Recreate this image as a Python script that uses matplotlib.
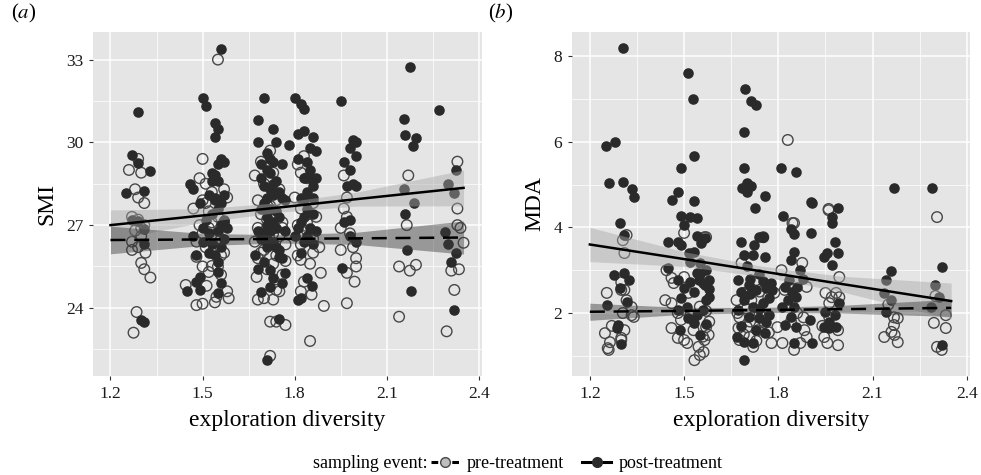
import matplotlib
matplotlib.use("Agg")
import matplotlib.pyplot as plt
from matplotlib.lines import Line2D

plt.rcParams['font.family'] = ['Liberation Serif', 'DejaVu Serif']
plt.rcParams['mathtext.fontset'] = 'stix'

# ---- panel (a): SMI vs exploration diversity ----
smi_post = [
    (1.29, 31.1), (1.27, 29.55), (1.29, 29.26), (1.33, 28.97), (1.25, 28.17), (1.31, 28.24),
    (1.27, 27.2), (1.29, 27.15), (1.31, 26.85), (1.31, 26.3), (1.30, 23.56), (1.31, 23.5),
    (1.56, 33.4), (1.50, 31.6), (1.51, 31.3), (1.54, 30.7), (1.55, 30.5), (1.54, 30.2),
    (1.56, 29.4), (1.55, 29.2), (1.57, 29.3), (1.54, 28.8), (1.55, 28.6), (1.53, 28.6),
    (1.46, 28.5), (1.47, 28.3), (1.52, 28.1), (1.54, 28.0), (1.49, 27.8), (1.56, 27.8),
    (1.55, 27.6), (1.53, 27.4), (1.50, 26.9), (1.52, 26.7), (1.55, 26.8), (1.57, 26.5),
    (1.53, 26.3), (1.48, 25.92), (1.52, 26.0), (1.55, 25.67), (1.55, 25.3), (1.49, 25.13),
    (1.48, 24.95), (1.45, 24.6), (1.49, 24.65), (1.56, 24.9), (1.55, 24.55), (1.47, 26.6),
    (1.57, 27.2), (1.51, 27.2), (1.56, 27.0), (1.54, 27.9), (1.57, 28.1), (1.53, 28.9),
    (1.56, 26.2), (1.50, 26.4), (1.54, 25.9), (1.58, 26.9),
    (1.70, 31.6), (1.68, 30.8), (1.73, 30.5), (1.68, 30.0), (1.74, 30.0), (1.78, 29.9),
    (1.71, 29.6), (1.72, 29.4), (1.73, 29.3), (1.69, 29.2), (1.71, 29.0), (1.72, 28.9),
    (1.74, 28.6), (1.70, 28.4), (1.72, 28.3), (1.75, 28.2), (1.71, 28.0), (1.73, 28.1),
    (1.76, 28.0), (1.70, 27.8), (1.72, 27.6), (1.74, 27.5), (1.71, 27.3), (1.73, 27.1),
    (1.68, 26.8), (1.70, 26.7), (1.72, 26.8), (1.74, 26.9), (1.77, 26.8), (1.69, 26.5),
    (1.73, 26.4), (1.71, 26.2), (1.75, 26.1), (1.67, 25.92), (1.70, 25.67), (1.72, 25.38),
    (1.73, 25.1), (1.76, 24.9), (1.77, 25.27), (1.69, 24.58), (1.72, 24.75), (1.75, 25.85),
    (1.75, 23.6), (1.71, 22.1), (1.71, 27.0), (1.75, 27.3), (1.69, 27.6), (1.77, 27.9),
    (1.73, 28.5), (1.69, 28.7), (1.76, 29.2), (1.71, 26.5), (1.74, 26.2), (1.76, 25.8),
    (1.68, 25.4),
    (1.80, 31.6), (1.82, 31.4), (1.83, 31.2), (1.81, 30.3), (1.83, 30.4), (1.86, 30.2),
    (1.85, 29.8), (1.87, 29.7), (1.81, 29.4), (1.84, 29.3), (1.85, 29.0), (1.83, 28.7),
    (1.85, 28.7), (1.87, 28.7), (1.86, 28.4), (1.84, 28.2), (1.82, 28.0), (1.84, 27.6),
    (1.86, 27.4), (1.83, 27.3), (1.82, 27.1), (1.85, 26.9), (1.87, 26.8), (1.80, 26.6),
    (1.83, 26.4), (1.82, 26.0), (1.84, 25.1), (1.855, 24.8), (1.82, 24.35), (1.81, 24.3),
    (1.83, 27.9), (1.86, 28.0), (1.84, 26.6), (1.81, 26.9), (1.86, 26.3),
    (1.95, 31.5), (1.99, 30.1), (2.00, 30.0), (1.98, 29.8), (2.00, 29.5), (1.96, 29.3),
    (1.98, 29.0), (1.99, 28.5), (1.97, 28.4), (2.00, 28.4), (1.96, 27.1), (1.98, 27.2),
    (1.98, 26.6), (2.00, 26.4), (1.953, 25.45),
    (2.175, 32.74), (2.155, 30.85), (2.16, 30.27), (2.195, 30.17), (2.185, 29.88),
    (2.155, 28.3), (2.19, 27.8), (2.16, 27.4), (2.165, 26.1), (2.18, 24.6),
    (2.27, 31.18), (2.325, 29.0), (2.30, 28.5), (2.32, 28.17), (2.29, 26.76), (2.30, 26.3),
    (2.325, 26.0), (2.31, 25.65), (2.32, 23.93),
]
smi_pre = [
    (1.26, 29.0), (1.29, 29.4), (1.30, 28.9), (1.28, 28.3), (1.29, 28.0), (1.31, 27.8),
    (1.27, 27.3), (1.29, 27.2), (1.31, 27.0), (1.28, 26.8), (1.30, 26.6), (1.27, 26.4),
    (1.29, 26.2), (1.314, 26.0), (1.30, 25.63), (1.31, 25.4), (1.33, 25.1), (1.285, 23.85),
    (1.275, 23.1), (1.30, 26.9), (1.27, 26.1),
    (1.55, 33.0), (1.50, 29.4), (1.49, 28.7), (1.51, 28.5), (1.53, 28.2), (1.57, 28.3),
    (1.58, 28.0), (1.50, 27.9), (1.47, 27.6), (1.52, 27.5), (1.55, 27.3), (1.57, 27.1),
    (1.49, 27.0), (1.52, 26.9), (1.54, 26.6), (1.56, 26.5), (1.48, 26.4), (1.51, 26.2),
    (1.53, 26.0), (1.56, 25.9), (1.48, 25.85), (1.53, 25.52), (1.56, 25.2), (1.445, 24.83),
    (1.513, 24.8), (1.58, 24.6), (1.585, 24.35), (1.48, 24.1), (1.50, 24.15), (1.54, 24.2),
    (1.545, 24.4), (1.52, 25.3), (1.50, 25.5), (1.53, 27.1), (1.50, 26.7), (1.57, 26.0),
    (1.55, 25.5), (1.51, 27.8),
    (1.72, 29.7), (1.69, 29.3), (1.67, 28.8), (1.73, 28.9), (1.70, 28.5), (1.75, 28.3),
    (1.68, 27.9), (1.72, 27.7), (1.74, 27.9), (1.69, 27.4), (1.71, 27.2), (1.76, 27.1),
    (1.68, 26.9), (1.73, 26.7), (1.70, 26.5), (1.75, 26.6), (1.72, 26.3), (1.69, 26.0),
    (1.74, 25.9), (1.77, 25.7), (1.676, 25.12), (1.71, 25.4), (1.68, 24.3), (1.70, 24.35),
    (1.73, 24.3), (1.74, 24.65), (1.75, 24.6), (1.72, 23.5), (1.74, 23.5), (1.77, 23.38),
    (1.72, 22.26), (1.67, 26.4), (1.76, 25.2), (1.71, 26.9), (1.74, 27.3), (1.70, 26.1),
    (1.77, 26.3), (1.68, 25.8), (1.73, 25.6), (1.76, 26.9),
    (1.83, 29.5), (1.81, 29.2), (1.82, 28.9), (1.84, 28.7), (1.80, 28.0), (1.86, 27.8),
    (1.82, 27.6), (1.85, 27.4), (1.87, 27.3), (1.81, 27.0), (1.84, 26.8), (1.86, 26.5),
    (1.82, 26.3), (1.88, 26.2), (1.82, 25.74), (1.85, 25.6), (1.885, 25.27), (1.83, 24.95),
    (1.82, 24.6), (1.855, 24.48), (1.895, 24.07), (1.85, 22.8), (1.83, 26.6), (1.86, 26.0),
    (1.81, 25.9), (1.84, 27.1),
    (1.96, 28.8), (1.97, 28.0), (1.97, 27.3), (1.95, 26.9), (1.98, 26.7), (1.99, 26.2),
    (1.95, 26.1), (2.00, 25.8), (1.97, 25.27), (2.00, 25.5), (1.995, 24.95), (1.97, 24.17),
    (1.96, 27.6),
    (2.17, 28.8), (2.165, 27.0), (2.14, 25.5), (2.175, 25.35), (2.195, 25.56), (2.14, 23.68),
    (2.33, 29.3), (2.33, 27.0), (2.34, 26.9), (2.35, 26.36), (2.31, 25.35), (2.335, 25.4),
    (2.32, 24.65), (2.295, 23.15), (2.33, 27.6),
]

# ---- panel (b): MDA vs exploration diversity ----
mda_post = [
    (1.305, 8.18), (1.514, 7.6), (1.527, 6.99), (1.695, 7.23), (1.714, 6.95), (1.73, 6.85),
    (1.69, 6.23), (1.25, 5.9), (1.28, 5.99), (1.533, 5.66), (1.49, 5.38), (1.69, 5.38),
    (1.81, 5.38), (1.857, 5.3), (1.26, 5.03), (1.305, 5.05), (1.333, 4.89), (1.34, 4.71),
    (1.48, 4.83), (1.46, 4.65), (1.533, 4.61), (1.683, 4.92), (1.70, 5.03), (1.714, 4.96),
    (1.70, 4.83), (1.756, 4.74), (1.727, 4.45), (1.905, 4.6), (2.168, 4.92), (2.29, 4.92),
    (1.295, 4.1), (1.49, 4.26), (1.50, 4.05), (1.52, 4.24), (1.54, 4.21), (1.815, 4.26),
    (1.84, 3.96), (1.85, 3.84), (1.905, 3.87), (1.97, 4.24), (1.97, 4.1), (1.99, 4.45),
    (1.31, 3.82), (1.54, 3.8), (1.74, 3.78), (1.75, 3.78),
    (1.448, 3.66), (1.48, 3.66), (1.49, 3.59), (1.555, 3.63), (1.565, 3.75), (1.53, 3.42),
    (1.68, 3.66), (1.724, 3.59), (1.752, 3.77), (1.69, 3.35), (1.72, 3.35), (1.756, 3.31),
    (1.98, 3.66), (1.956, 3.4), (1.99, 3.4), (1.97, 3.12), (1.84, 3.24), (1.85, 3.42),
    (1.45, 3.05), (1.517, 3.4), (1.55, 3.17), (1.54, 2.93), (1.57, 3.0), (1.52, 2.72),
    (1.56, 2.7), (1.58, 2.77), (1.276, 2.89), (1.31, 2.93), (1.325, 2.77), (1.295, 2.58),
    (1.317, 2.26), (1.254, 2.19), (1.29, 1.72), (1.285, 1.65), (1.30, 1.28),
    (1.48, 2.77), (1.50, 2.58), (1.49, 2.35), (1.48, 2.07), (1.546, 2.77), (1.565, 2.65),
    (1.578, 2.37), (1.56, 2.07), (1.533, 1.77), (1.55, 1.49), (1.486, 1.6), (1.514, 1.88),
    (1.52, 3.2), (1.55, 2.9), (1.58, 2.55), (1.51, 2.15), (1.54, 1.95), (1.57, 1.75),
    (1.673, 2.77), (1.705, 2.65), (1.73, 2.54), (1.76, 2.58), (1.778, 2.7), (1.69, 2.3),
    (1.72, 2.14), (1.752, 2.23), (1.673, 2.07), (1.705, 1.9), (1.737, 1.88), (1.77, 1.95),
    (1.667, 1.44), (1.69, 1.32), (1.72, 1.3), (1.756, 1.53), (1.69, 0.9),
    (1.71, 2.8), (1.75, 2.75), (1.68, 2.5), (1.77, 2.35), (1.71, 2.45), (1.74, 2.1),
    (1.68, 1.7), (1.73, 1.6), (1.76, 1.8),
    (1.835, 2.77), (1.845, 2.49), (1.857, 2.37), (1.85, 2.14), (1.813, 2.14), (1.78, 2.54),
    (1.82, 1.72), (1.857, 1.67), (1.90, 1.84), (1.85, 1.3), (1.908, 1.3), (1.946, 1.67),
    (1.962, 1.65), (1.984, 1.67), (1.95, 2.02), (1.994, 2.23), (1.946, 3.31), (1.908, 4.57),
    (1.70, 3.1), (1.74, 2.9), (1.53, 2.5), (1.57, 2.3), (1.87, 3.0), (1.88, 2.8), (1.83, 2.3),
    (1.82, 2.6), (1.86, 2.6), (1.84, 1.9), (1.98, 1.95), (1.96, 1.8),
    (2.16, 2.98), (2.143, 2.77), (2.137, 2.47), (2.16, 2.3), (2.143, 2.02),
    (2.32, 3.07), (2.30, 2.65), (2.31, 2.37), (2.285, 2.14), (2.32, 1.25),
]
mda_pre = [
    (1.83, 6.04), (1.96, 4.43), (1.85, 4.1), (2.305, 4.24), (1.50, 3.87), (1.57, 3.77),
    (1.317, 3.82), (1.305, 3.7), (1.31, 3.4),
    (1.30, 2.54), (1.317, 2.3), (1.305, 2.0), (1.333, 1.95), (1.254, 2.47), (1.248, 1.53),
    (1.264, 1.32), (1.257, 1.18), (1.30, 1.37), (1.30, 2.72), (1.31, 2.54), (1.333, 2.14),
    (1.34, 1.91), (1.30, 1.42), (1.26, 1.14), (1.27, 1.7), (1.31, 1.6),
    (1.444, 3.0), (1.50, 2.84), (1.46, 2.82), (1.44, 2.3), (1.46, 2.23), (1.46, 1.65),
    (1.48, 1.42), (1.50, 1.37), (1.546, 1.21), (1.533, 0.9), (1.578, 1.49), (1.565, 1.37),
    (1.562, 1.09), (1.55, 1.02), (1.57, 1.67), (1.514, 2.47), (1.467, 2.7), (1.565, 3.77),
    (1.49, 1.84), (1.52, 1.95), (1.55, 2.15), (1.58, 1.8), (1.53, 1.6), (1.56, 1.45),
    (1.51, 1.3), (1.57, 2.05), (1.48, 2.0),
    (1.752, 3.77), (1.683, 3.17), (1.69, 2.47), (1.73, 2.77), (1.667, 2.3), (1.676, 1.9),
    (1.673, 1.65), (1.70, 1.67), (1.708, 1.44), (1.72, 1.21), (1.676, 1.37), (1.736, 1.6),
    (1.756, 1.77), (1.778, 1.3), (1.714, 2.3), (1.768, 2.37), (1.787, 2.47), (1.74, 2.0),
    (1.70, 2.1), (1.69, 1.5), (1.73, 1.35), (1.77, 1.55), (1.71, 1.8), (1.67, 2.0),
    (1.74, 2.5),
    (1.845, 4.1), (1.96, 4.4), (1.994, 2.84), (1.984, 2.47), (1.95, 2.47), (1.994, 2.37),
    (1.962, 2.23), (1.81, 3.0), (1.82, 2.54), (1.876, 3.17), (1.89, 2.61), (1.797, 1.67),
    (1.813, 1.3), (1.85, 1.14), (1.883, 1.6), (1.89, 1.44), (1.946, 1.44), (1.956, 1.3),
    (1.99, 1.25), (1.962, 1.9), (1.97, 2.37), (1.86, 2.0), (1.84, 1.8), (1.88, 1.9),
    (1.94, 1.7), (1.87, 1.3), (1.99, 1.6),
    (2.168, 1.9), (2.18, 1.88), (2.168, 1.72), (2.16, 1.56), (2.17, 1.49), (2.137, 1.44),
    (2.18, 1.32), (2.15, 2.2),
    (2.295, 1.77), (2.333, 1.65), (2.333, 1.95), (2.305, 1.21), (2.32, 1.14), (2.30, 2.4),
]

# fitted lines and confidence bands
band_x = [1.2, 1.5, 1.75, 2.0, 2.35]
smi_post_fit = [27.0, 27.35, 27.64, 27.94, 28.35]
smi_post_lo = [26.45, 27.1, 27.47, 27.69, 27.7]
smi_post_hi = [27.55, 27.6, 27.81, 28.19, 29.0]
smi_pre_fit = [26.46, 26.48, 26.5, 26.52, 26.55]
smi_pre_lo = [25.96, 26.26, 26.35, 26.3, 25.95]
smi_pre_hi = [26.96, 26.7, 26.65, 26.74, 27.15]
mda_post_fit = [3.6, 3.26, 2.97, 2.68, 2.28]
mda_post_lo = [3.2, 3.09, 2.85, 2.5, 1.86]
mda_post_hi = [4.0, 3.43, 3.09, 2.86, 2.7]
mda_pre_fit = [2.03, 2.05, 2.07, 2.09, 2.12]
mda_pre_lo = [1.83, 1.97, 2.01, 2.0, 1.92]
mda_pre_hi = [2.23, 2.13, 2.13, 2.18, 2.32]

xticks = [1.2, 1.5, 1.8, 2.1, 2.4]

BG = '#E5E5E5'
POST = '#2a2a2a'
PRE_EDGE = '#474747'

fig = plt.figure(figsize=(9.81, 4.75), dpi=100)
ax_a = fig.add_axes([0.0948, 0.2084, 0.3965, 0.7242])
ax_b = fig.add_axes([0.583, 0.2084, 0.4058, 0.7242])


def draw_panel(ax, pre, post, fits, ylim, yticks, yminor, ylabel, tag):
    ax.set_facecolor(BG)
    for s in ax.spines.values():
        s.set_visible(False)
    ax.set_xlim(1.143, 2.41)
    ax.set_ylim(*ylim)
    ax.set_xticks(xticks)
    ax.set_xticklabels([f'{t:.1f}' for t in xticks])
    ax.set_yticks(yticks)
    ax.set_yticklabels([str(t) for t in yticks])
    ax.set_xticks([1.35, 1.65, 1.95, 2.25], minor=True)
    ax.set_yticks(yminor, minor=True)
    ax.grid(which='major', color='white', lw=1.1)
    ax.grid(which='minor', color='white', lw=0.5)
    ax.set_axisbelow(True)
    ax.tick_params(which='major', length=3, width=0.8, color='#333333',
                   labelsize=12.5, labelcolor='#1a1a1a', pad=4)
    ax.tick_params(which='minor', length=0)

    px, py = zip(*pre)
    ax.scatter(px, py, s=58, facecolors='none', edgecolors=PRE_EDGE, linewidths=1.0, zorder=2)
    qx, qy = zip(*post)
    ax.scatter(qx, qy, s=58, color=POST, linewidths=0, zorder=2)

    (pf, plo, phi), (qf, qlo, qhi) = fits
    ax.fill_between(band_x, qlo, qhi, color='#a8a8a8', alpha=0.45, lw=0, zorder=3)
    ax.fill_between(band_x, plo, phi, color='#3c3c3c', alpha=0.45, lw=0, zorder=3)
    ax.plot(band_x, qf, color='black', lw=1.8, zorder=4)
    ax.plot(band_x, pf, color='black', lw=1.8, ls=(0, (6, 3.5)), zorder=4)

    ax.set_xlabel('exploration diversity', fontsize=17, labelpad=6)
    ax.set_ylabel(ylabel, fontsize=17, labelpad=6)
    ax.text(-0.21, 1.055, tag, transform=ax.transAxes, fontsize=15, ha='left', va='center')


draw_panel(ax_a, smi_pre, smi_post,
           [(smi_pre_fit, smi_pre_lo, smi_pre_hi), (smi_post_fit, smi_post_lo, smi_post_hi)],
           (21.53, 34.0), [24, 27, 30, 33], [22.5, 25.5, 28.5, 31.5], 'SMI', '($a$)')
draw_panel(ax_b, mda_pre, mda_post,
           [(mda_pre_fit, mda_pre_lo, mda_pre_hi), (mda_post_fit, mda_post_lo, mda_post_hi)],
           (0.53, 8.56), [2, 4, 6, 8], [1, 3, 5, 7], 'MDA', '($b$)')

# legend at the bottom
h_pre = Line2D([], [], color='black', ls=(0, (2.2, 1.2)), lw=2.2, marker='o', ms=7,
               mfc='#bdbdbd', mec=PRE_EDGE, mew=1.0)
h_post = Line2D([], [], color='black', lw=2.2, marker='o', ms=7, mfc=POST, mec=POST)
fig.text(0.436, 0.024, 'sampling event:', fontsize=13, ha='right', va='center')
fig.legend([h_pre, h_post], ['pre-treatment', 'post-treatment'], loc='center left',
           bbox_to_anchor=(0.43, 0.024), ncol=2, frameon=False, fontsize=13,
           handlelength=1.6, handletextpad=0.4, columnspacing=1.0, borderpad=0)

fig.savefig('out.png', dpi=100)
